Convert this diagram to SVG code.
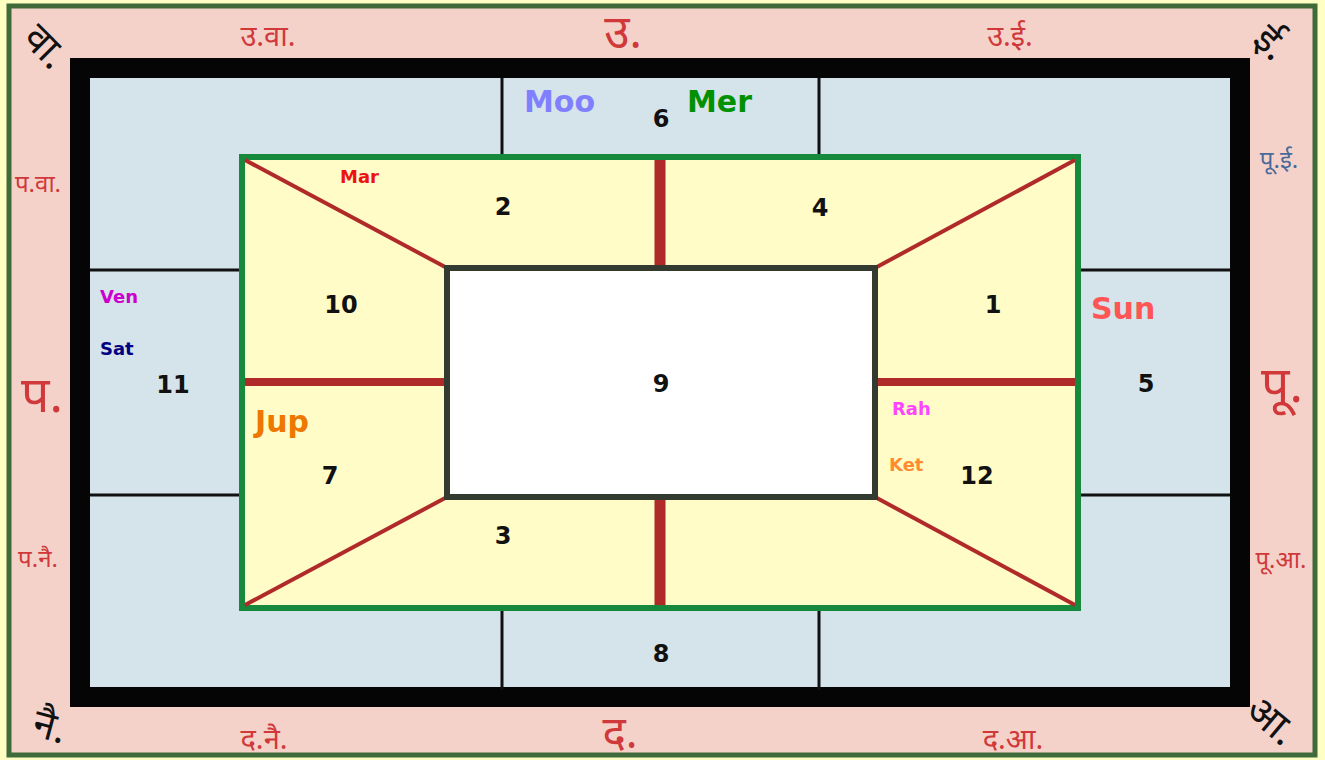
<svg xmlns="http://www.w3.org/2000/svg" width="1325" height="760" viewBox="0 0 1325 760">
<style>
.dev{font-family:"Noto Sans","Liberation Sans",sans-serif;fill:#d0383a;text-anchor:middle}
.num{font-family:"DejaVu Sans","Liberation Sans",sans-serif;font-weight:bold;font-size:24px;fill:#111;text-anchor:middle}
.pl{font-family:"DejaVu Sans","Liberation Sans",sans-serif;font-weight:bold}
.thin{stroke:#111;stroke-width:3}
.red{stroke:#b02a2a;fill:none}
</style>
<rect x="0" y="0" width="1325" height="760" fill="#ffffc4"/>
<rect x="9" y="6" width="1306" height="749" fill="#f4d2ca" stroke="#3f6a3a" stroke-width="5"/>
<g id="frame">
<rect x="80" y="68" width="1160" height="629" fill="#d5e3ea" stroke="#050505" stroke-width="20"/>
</g>
<g id="connectors">
<line class="thin" x1="502" y1="78" x2="502" y2="157"/>
<line class="thin" x1="819" y1="78" x2="819" y2="157"/>
<line class="thin" x1="502" y1="608" x2="502" y2="690"/>
<line class="thin" x1="819" y1="608" x2="819" y2="690"/>
<line class="thin" x1="90" y1="270" x2="242" y2="270"/>
<line class="thin" x1="90" y1="495" x2="242" y2="495"/>
<line class="thin" x1="1078" y1="270" x2="1230" y2="270"/>
<line class="thin" x1="1078" y1="495" x2="1230" y2="495"/>
</g>
<g id="inner">
<rect x="242" y="157" width="836" height="451" fill="#fffcc8" stroke="#16893c" stroke-width="6"/>
<line class="red" stroke-width="4" x1="245" y1="160" x2="447" y2="268"/>
<line class="red" stroke-width="4" x1="1075" y1="160" x2="875" y2="268"/>
<line class="red" stroke-width="4" x1="245" y1="605" x2="447" y2="497"/>
<line class="red" stroke-width="4" x1="1075" y1="605" x2="875" y2="497"/>
<line class="red" stroke-width="11" x1="660" y1="160" x2="660" y2="268"/>
<line class="red" stroke-width="11" x1="660" y1="497" x2="660" y2="605"/>
<line class="red" stroke-width="8" x1="245" y1="382" x2="447" y2="382"/>
<line class="red" stroke-width="8" x1="875" y1="382" x2="1075" y2="382"/>
<rect x="447" y="268" width="428" height="229" fill="#ffffff" stroke="#333a30" stroke-width="6"/>
</g>
<g id="houses">
<text class="num" x="661" y="127">6</text>
<text class="num" x="503" y="215">2</text>
<text class="num" x="820" y="216">4</text>
<text class="num" x="341" y="313">10</text>
<text class="num" x="993" y="313">1</text>
<text class="num" x="173" y="393">11</text>
<text class="num" x="661" y="392">9</text>
<text class="num" x="1146" y="392">5</text>
<text class="num" x="330" y="484">7</text>
<text class="num" x="977" y="484">12</text>
<text class="num" x="503" y="544">3</text>
<text class="num" x="661" y="662">8</text>
</g>
<g id="planets">
<text class="pl" x="524" y="112" font-size="30" fill="#8080ff">Moo</text>
<text class="pl" x="687" y="112" font-size="30" fill="#009000">Mer</text>
<text class="pl" x="340" y="183" font-size="18" fill="#ee1111">Mar</text>
<text class="pl" x="100" y="303" font-size="18" fill="#cc00cc">Ven</text>
<text class="pl" x="100" y="355" font-size="18" fill="#000080">Sat</text>
<text class="pl" x="255" y="432" font-size="30" fill="#ee7700">Jup</text>
<text class="pl" x="1091" y="319" font-size="30" fill="#ff5555">Sun</text>
<text class="pl" x="892" y="415" font-size="18" fill="#ff44ff">Rah</text>
<text class="pl" x="889" y="471" font-size="18" fill="#ff8c30">Ket</text>
</g>
<g id="directions">
<text class="dev" x="268" y="46" font-size="29">उ.वा.</text>
<text class="dev" x="623" y="48" font-size="46">उ.</text>
<text class="dev" x="1010" y="46" font-size="29">उ.ई.</text>
<text class="dev" x="38" y="192" font-size="24">प.वा.</text>
<text class="dev" x="42" y="412" font-size="50">प.</text>
<text class="dev" x="38" y="567" font-size="24">प.नै.</text>
<text class="dev" x="1279" y="168" font-size="24" style="fill:#4a6a9a">पू.ई.</text>
<text class="dev" x="1282" y="402" font-size="50">पू.</text>
<text class="dev" x="1281" y="568" font-size="24">पू.आ.</text>
<text class="dev" x="264" y="749" font-size="29">द.नै.</text>
<text class="dev" x="620" y="748" font-size="44">द.</text>
<text class="dev" x="1013" y="749" font-size="29">द.आ.</text>
<text class="dev" font-size="40" style="fill:#111" transform="translate(46,46) rotate(45)" y="14">वा.</text>
<text class="dev" font-size="40" style="fill:#111" transform="translate(1272,42) rotate(45)" y="14">ई.</text>
<text class="dev" font-size="40" style="fill:#111" transform="translate(50,726) rotate(15)" y="14">नै.</text>
<text class="dev" font-size="40" style="fill:#111" transform="translate(1272,720) rotate(40)" y="14">आ.</text>
</g>
</svg>
